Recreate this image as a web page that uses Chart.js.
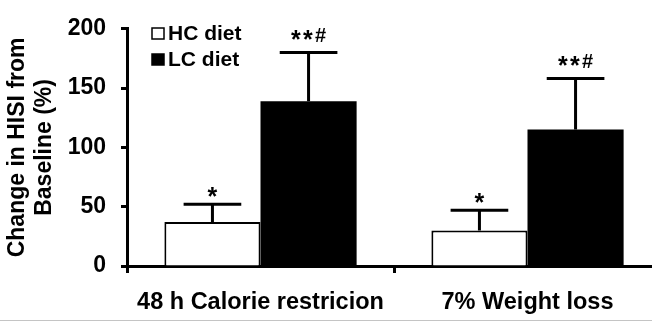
<!DOCTYPE html>
<html>
<head>
<meta charset="utf-8">
<script src="https://cdn.jsdelivr.net/npm/chart.js@4.4.1/dist/chart.umd.min.js"></script>
<style>
  html, body { margin: 0; padding: 0; background: #fff; overflow: hidden; }
  #wrap { position: relative; width: 652px; height: 328px; overflow: hidden; }
  #box { position: absolute; left: 0; top: 0; width: 661px; height: 328px; }
  #rule { position: absolute; left: 0; top: 320px; width: 652px; height: 1px; background: #c4c4c4; }
</style>
</head>
<body>
<div id="wrap">
  <div id="box"><canvas id="chart"></canvas></div>
  <div id="rule"></div>
</div>
<script>
const categories = ['48 h Calorie restricion', '7% Weight loss'];
const hcValues = [37, 30];
const lcValues = [139, 115];
const hcErrTop = [52, 47];
const lcErrTop = [180, 158];
const hcSig = ['*', '*'];
const lcSig = ['**#', '**#'];
const yTicks = [0, 50, 100, 150, 200];

const FONT = 'Liberation Sans, Arial, sans-serif';

// draw a mark string char by char, each glyph centred on cy
function drawMark(ctx, text, cx, cy) {
    const chars = text.split('');
    const gap = 2;
    const parts = chars.map(ch => {
        ctx.font = (ch === '*' ? 'bold 25px ' : 'bold 20px ') + FONT;
        const m = ctx.measureText(ch);
        return { ch, font: ctx.font, m, w: m.actualBoundingBoxLeft + m.actualBoundingBoxRight };
    });
    const total = parts.reduce((s, p) => s + p.w, 0) + gap * (parts.length - 1);
    let x = cx - total / 2;
    parts.forEach(p => {
        ctx.font = p.font;
        ctx.textAlign = 'left';
        ctx.textBaseline = 'alphabetic';
        const yy = cy + (p.m.actualBoundingBoxAscent - p.m.actualBoundingBoxDescent) / 2;
        ctx.fillText(p.ch, x + p.m.actualBoundingBoxLeft, yy);
        x += p.w + gap;
    });
}

// error bars (upper only) and significance marks
const errorBars = {
    id: 'errorBars',
    afterDatasetsDraw(chart) {
        const ctx = chart.ctx;
        const y = chart.scales.y;
        const tops = [hcErrTop, lcErrTop];
        const sigs = [hcSig, lcSig];
        ctx.save();
        ctx.strokeStyle = '#000';
        ctx.fillStyle = '#000';
        ctx.lineWidth = 3;
        chart.data.datasets.forEach((ds, d) => {
            const meta = chart.getDatasetMeta(d);
            meta.data.forEach((bar, i) => {
                const yTop = y.getPixelForValue(tops[d][i]);
                const cap = bar.width * 0.6;
                ctx.beginPath();
                ctx.moveTo(bar.x, bar.y);
                ctx.lineTo(bar.x, yTop);
                ctx.moveTo(bar.x - cap / 2, yTop);
                ctx.lineTo(bar.x + cap / 2, yTop);
                ctx.stroke();
                const s = sigs[d][i];
                drawMark(ctx, s, bar.x, yTop - (s.length > 1 ? 18 : 12));
            });
        });
        ctx.restore();
    }
};

// legend in the top-left of the plot
const boxLegend = {
    id: 'boxLegend',
    afterDraw(chart) {
        const ctx = chart.ctx;
        ctx.save();
        ctx.font = 'bold 21px ' + FONT;
        ctx.textBaseline = 'middle';
        ctx.textAlign = 'left';
        chart.data.datasets.forEach((ds, d) => {
            const cy = 34 + d * 26;
            ctx.fillStyle = ds.backgroundColor;
            ctx.fillRect(152, cy - 6, 12, 11);
            ctx.strokeStyle = '#000';
            ctx.lineWidth = 1.5;
            ctx.strokeRect(152, cy - 6, 12, 11);
            ctx.fillStyle = '#000';
            ctx.fillText(ds.label, 168, cy);
        });
        ctx.restore();
    }
};

new Chart(document.getElementById('chart'), {
    type: 'bar',
    data: {
        labels: categories,
        datasets: [
            {
                label: 'HC diet',
                data: hcValues,
                backgroundColor: '#ffffff',
                borderColor: '#000000',
                borderWidth: 2,
                borderSkipped: 'bottom'
            },
            {
                label: 'LC diet',
                data: lcValues,
                backgroundColor: '#000000',
                borderColor: '#000000',
                borderWidth: 0
            }
        ]
    },
    options: {
        responsive: true,
        maintainAspectRatio: false,
        animation: false,
        categoryPercentage: 0.72,
        barPercentage: 1,
        layout: { padding: { top: 17, right: 0, left: 0, bottom: 0 } },
        plugins: {
            legend: { display: false },
            tooltip: { enabled: false }
        },
        scales: {
            x: {
                grid: {
                    offset: true,
                    drawOnChartArea: false,
                    drawTicks: true,
                    tickLength: 7,
                    tickWidth: 3,
                    color: '#000'
                },
                border: { color: '#000', width: 3 },
                ticks: {
                    color: '#000',
                    padding: 15,
                    font: { family: FONT, size: 23.5, weight: 'bold' }
                },
                afterFit(scale) { scale.height = 62; }
            },
            y: {
                min: 0,
                max: 200,
                afterBuildTicks(scale) {
                    scale.ticks = yTicks.map(v => ({ value: v }));
                },
                grid: {
                    drawOnChartArea: false,
                    drawTicks: true,
                    tickLength: 6,
                    tickWidth: 3,
                    color: '#000'
                },
                border: { color: '#000', width: 3 },
                ticks: {
                    color: '#000',
                    padding: 15,
                    font: { family: FONT, size: 23, weight: 'bold' }
                },
                title: {
                    display: true,
                    text: ['Change in HISI from', 'Baseline (%)'],
                    color: '#000',
                    padding: { top: 4, bottom: 0 },
                    font: { family: FONT, size: 23, weight: 'bold', lineHeight: 1.17 }
                },
                afterFit(scale) { scale.width = 127; }
            }
        }
    },
    plugins: [errorBars, boxLegend]
});
</script>
</body>
</html>
